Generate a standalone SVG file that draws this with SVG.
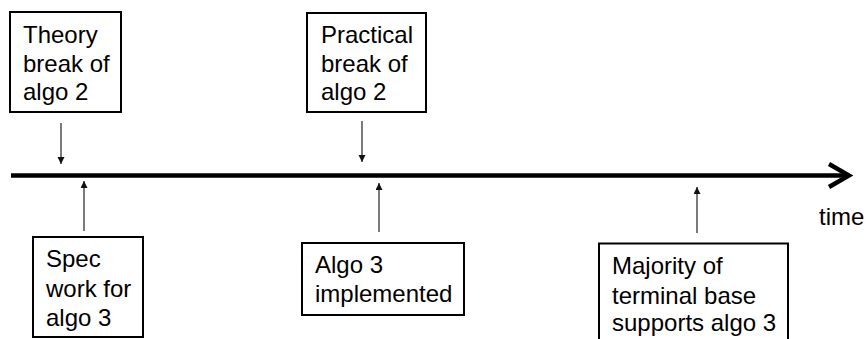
<svg xmlns="http://www.w3.org/2000/svg" width="867" height="339" viewBox="0 0 867 339">
  <defs>
    <marker id="tip" markerWidth="8" markerHeight="8" refX="7" refY="3.5" orient="auto" markerUnits="userSpaceOnUse">
      <path d="M0,0 L7,3.5 L0,7 z" fill="#111"/>
    </marker>
    <style>
      .box { fill: #fff; stroke: #000; stroke-width: 2; }
      .lbl { font-family: "Liberation Sans", Arial, sans-serif; font-size: 24px; fill: #000; }
      .ptr { stroke: #222; stroke-width: 1.2; fill: none; marker-end: url(#tip); }
      .axis { stroke: #000; stroke-width: 4.4; fill: none; }
    </style>
  </defs>

  <rect width="867" height="339" fill="#fff"/>

  <!-- time axis -->
  <g id="axis">
    <line class="axis" x1="11" y1="175.5" x2="847" y2="175.5"/>
    <polyline class="axis" points="829,164 849,175.5 829,187" stroke-width="4"/>
    <text class="lbl" x="819" y="225" font-size="23">time</text>
  </g>

  <!-- events above the axis -->
  <g id="theory-break">
    <rect class="box" x="10" y="12" width="111" height="100"/>
    <text class="lbl" x="23" y="43">Theory</text>
    <text class="lbl" x="23" y="71.5">break of</text>
    <text class="lbl" x="23" y="100">algo 2</text>
  </g>

  <g id="practical-break">
    <rect class="box" x="307" y="13" width="119" height="99"/>
    <text class="lbl" x="321" y="43">Practical</text>
    <text class="lbl" x="321" y="71.5">break of</text>
    <text class="lbl" x="321" y="100">algo 2</text>
  </g>

  <!-- events below the axis -->
  <g id="spec-work">
    <rect class="box" x="33" y="237" width="110" height="100"/>
    <text class="lbl" x="46" y="267">Spec</text>
    <text class="lbl" x="46" y="296.5">work for</text>
    <text class="lbl" x="46" y="325.5">algo 3</text>
  </g>

  <g id="algo3-implemented">
    <rect class="box" x="302" y="243" width="162" height="72"/>
    <text class="lbl" x="315" y="273">Algo 3</text>
    <text class="lbl" x="315" y="302">implemented</text>
  </g>

  <g id="terminal-majority">
    <rect class="box" x="599" y="243.5" width="189" height="110"/>
    <text class="lbl" x="612" y="274">Majority of</text>
    <text class="lbl" x="612" y="303.5">terminal base</text>
    <text class="lbl" x="612" y="331">supports algo 3</text>
  </g>

  <!-- pointers to the axis -->
  <g id="connectors">
    <line class="ptr" x1="61" y1="123" x2="61" y2="164"/>
    <line class="ptr" x1="362" y1="121" x2="362" y2="162"/>
    <line class="ptr" x1="84" y1="231" x2="84" y2="181"/>
    <line class="ptr" x1="379" y1="232" x2="379" y2="183"/>
    <line class="ptr" x1="697" y1="233" x2="697" y2="187"/>
  </g>
</svg>
